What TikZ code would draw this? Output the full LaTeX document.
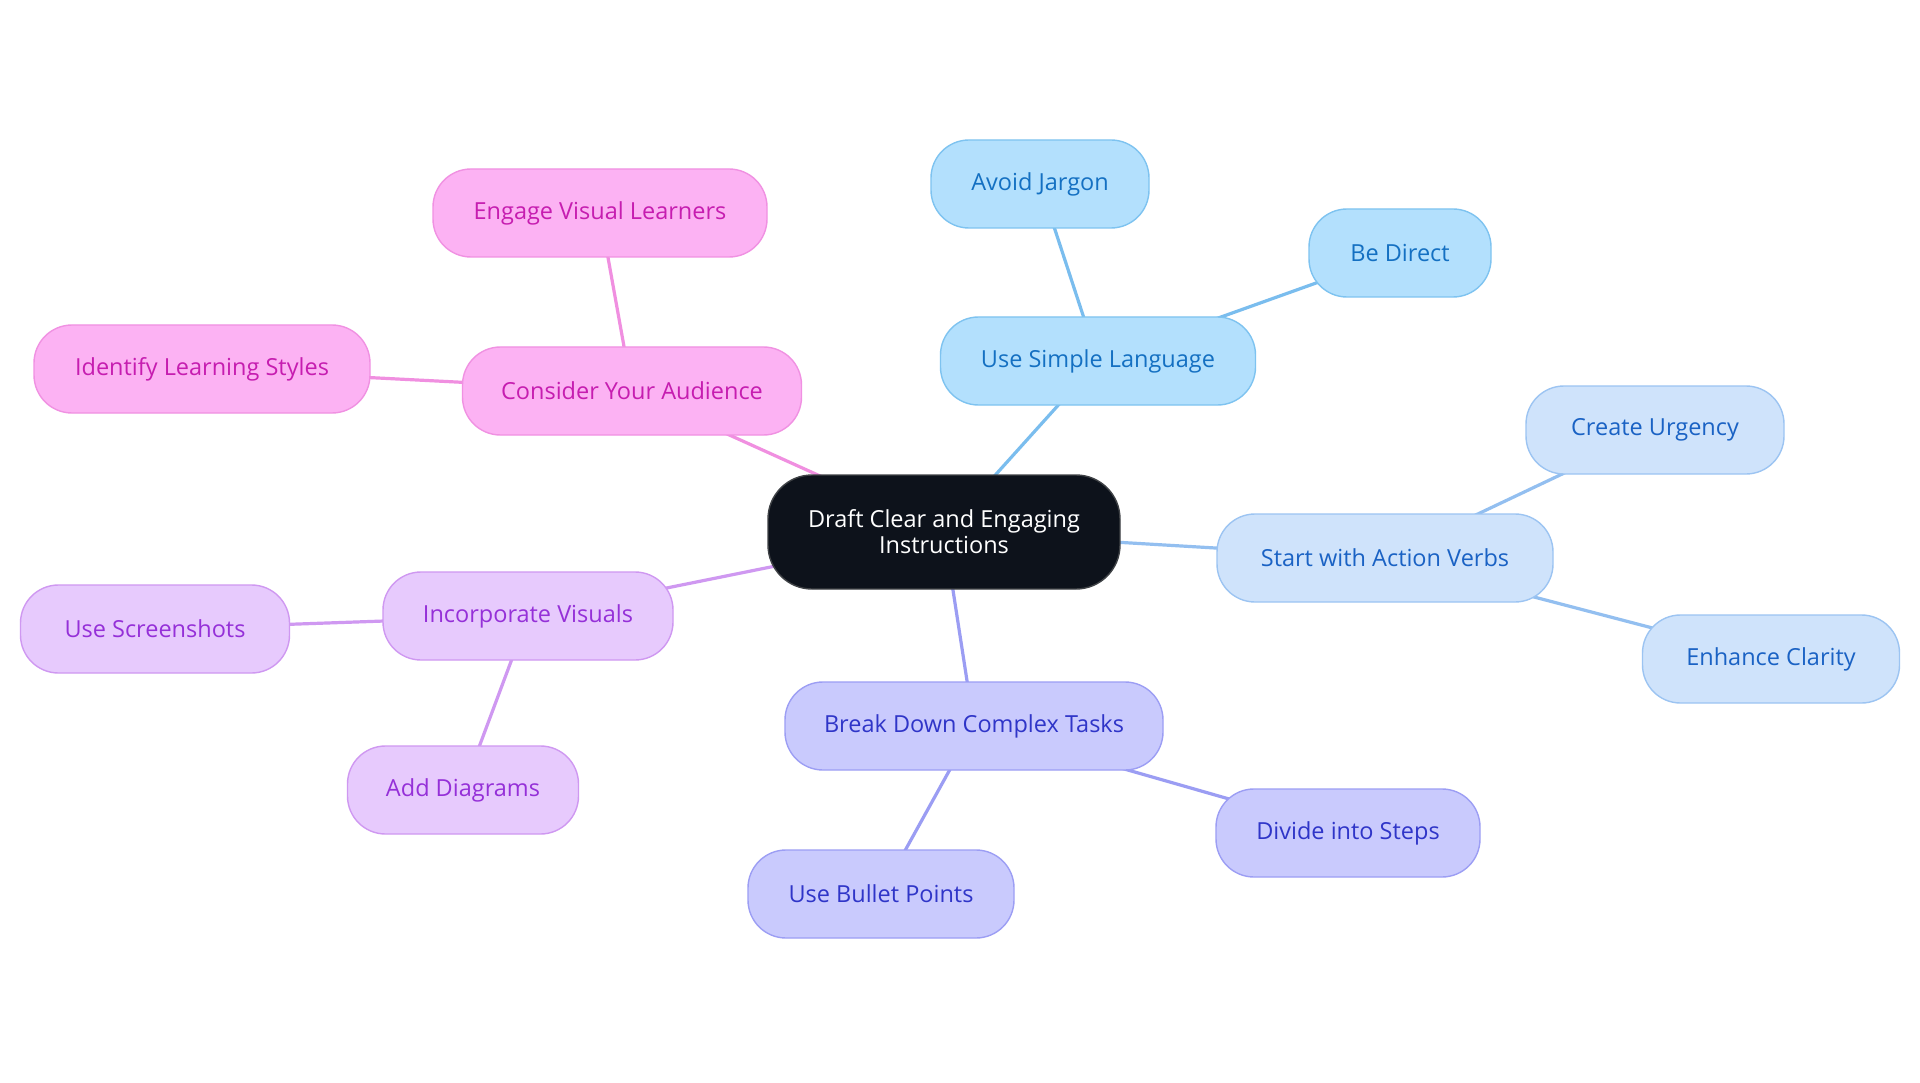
\documentclass[tikz,border=0pt]{standalone}
\usepackage{fontspec}
\setmainfont{Open Sans}
\usetikzlibrary{backgrounds}
\definecolor{rootfill}{HTML}{0D121B}
\definecolor{rootdraw}{HTML}{3F4246}
\definecolor{aFill}{HTML}{B3E0FD}
\definecolor{aDraw}{HTML}{7EC3F0}
\definecolor{aText}{HTML}{1470C2}
\definecolor{aLine}{HTML}{7ABDEE}
\definecolor{bFill}{HTML}{CFE3FB}
\definecolor{bDraw}{HTML}{9CC4F2}
\definecolor{bText}{HTML}{1A62C4}
\definecolor{bLine}{HTML}{93BFF0}
\definecolor{cFill}{HTML}{C9CAFD}
\definecolor{cDraw}{HTML}{9C9EF4}
\definecolor{cText}{HTML}{2F35C8}
\definecolor{cLine}{HTML}{9B9DF3}
\definecolor{dFill}{HTML}{E7CAFD}
\definecolor{dDraw}{HTML}{CF98F1}
\definecolor{dText}{HTML}{9530D8}
\definecolor{dLine}{HTML}{CF98F1}
\definecolor{eFill}{HTML}{FCB2F3}
\definecolor{eDraw}{HTML}{F091E2}
\definecolor{eText}{HTML}{C61DB0}
\definecolor{eLine}{HTML}{F08FE0}
\begin{document}
\begin{tikzpicture}[x=1pt,y=-1pt,
  box/.style={rounded corners=38pt, minimum height=88pt, line width=1.4pt,
    font=\fontsize{23.5}{26}\selectfont, align=center, inner sep=0pt},
  grpA/.style={box, fill=aFill, draw=aDraw, text=aText},
  grpB/.style={box, fill=bFill, draw=bDraw, text=bText},
  grpC/.style={box, fill=cFill, draw=cDraw, text=cText},
  grpD/.style={box, fill=dFill, draw=dDraw, text=dText},
  grpE/.style={box, fill=eFill, draw=eDraw, text=eText},
  rootbox/.style={box, fill=rootfill, draw=rootdraw, text=white, minimum height=114pt, rounded corners=44pt},
  link/.style={line width=3.2pt}
]
\useasboundingbox (0,0) rectangle (1920,1083);

\node[rootbox, minimum width=352pt] (root) at (944,532) {Draft Clear and Engaging\\Instructions};

\node[grpA, minimum width=315pt] (usl) at (1098,361) {Use Simple Language};
\node[grpA, minimum width=218pt] (aj) at (1040,184) {Avoid Jargon};
\node[grpA, minimum width=182pt] (bd) at (1400,253) {Be Direct};

\node[grpB, minimum width=336pt] (swav) at (1385,558) {Start with Action Verbs};
\node[grpB, minimum width=258pt] (cu) at (1655,430) {Create Urgency};
\node[grpB, minimum width=257pt] (ec) at (1771,659) {Enhance Clarity};

\node[grpC, minimum width=378pt] (bdct) at (974,726) {Break Down Complex Tasks};
\node[grpC, minimum width=264pt] (dis) at (1348,833) {Divide into Steps};
\node[grpC, minimum width=266pt] (ubp) at (881,894) {Use Bullet Points};

\node[grpD, minimum width=290pt] (iv) at (528,616) {Incorporate Visuals};
\node[grpD, minimum width=269pt] (us) at (155,629) {Use Screenshots};
\node[grpD, minimum width=231pt] (ad) at (463,790) {Add Diagrams};

\node[grpE, minimum width=339pt] (cya) at (632,391) {Consider Your Audience};
\node[grpE, minimum width=334pt] (evl) at (600,213) {Engage Visual Learners};
\node[grpE, minimum width=336pt] (ils) at (202,369) {Identify Learning Styles};

\begin{scope}[on background layer]
\fill[white] (0,0) rectangle (1920,1083);
\draw[link, aLine] (root.center) -- (usl.center);
\draw[link, aLine] (usl.center) -- (aj.center);
\draw[link, aLine] (usl.center) -- (bd.center);
\draw[link, bLine] (root.center) -- (swav.center);
\draw[link, bLine] (swav.center) -- (cu.center);
\draw[link, bLine] (swav.center) -- (ec.center);
\draw[link, cLine] (root.center) -- (bdct.center);
\draw[link, cLine] (bdct.center) -- (dis.center);
\draw[link, cLine] (bdct.center) -- (ubp.center);
\draw[link, dLine] (root.center) -- (iv.center);
\draw[link, dLine] (iv.center) -- (us.center);
\draw[link, dLine] (iv.center) -- (ad.center);
\draw[link, eLine] (root.center) -- (cya.center);
\draw[link, eLine] (cya.center) -- (evl.center);
\draw[link, eLine] (cya.center) -- (ils.center);
\end{scope}
\end{tikzpicture}
\end{document}
